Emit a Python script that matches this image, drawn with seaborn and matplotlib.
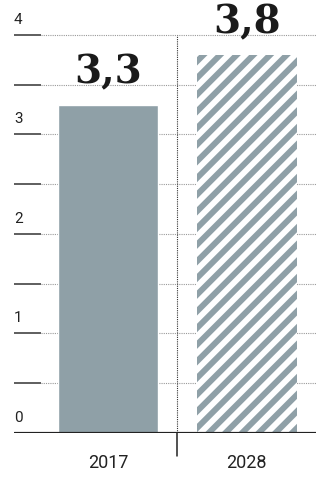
import matplotlib
matplotlib.use("Agg")
import matplotlib.pyplot as plt
import matplotlib.transforms as mtransforms
import pandas as pd
import seaborn as sns

# Chart data
years = ["2017", "2028"]
values = [3.3, 3.8]
value_labels = ["3,3", "3,8"]
y_gridlines = [0.5, 1, 1.5, 2, 2.5, 3, 3.5, 4]
y_labels = [0, 1, 2, 3, 4]

bar_color = "#8fa0a7"
narrow = ["Roboto", "DejaVu Sans"]

sns.set_style("white")
plt.rcParams["hatch.linewidth"] = 4.2

df = pd.DataFrame({"year": years, "value": values})

fig = plt.figure(figsize=(3.16, 4.78), dpi=100)
ax = fig.add_axes([14 / 316, 45 / 478, 302 / 316, 433 / 478])

sns.barplot(data=df, x="year", y="value", color=bar_color, width=0.72,
            saturation=1, ax=ax, zorder=3)

# second bar is a forecast: white diagonal stripes
fut = ax.patches[1]
fut.set_hatch("//")
fut.set_edgecolor("white")
fut.set_linewidth(0)

ax.set_xlim(-0.68, 1.5)
ax.set_ylim(0, 4.35)

# Gridlines: short solid mark on the left, dotted line across
trans = mtransforms.blended_transform_factory(ax.transAxes, ax.transData)
for g in y_gridlines:
    ax.plot([0, 0.09], [g, g], color="#333333", lw=1.1, transform=trans,
            zorder=2, solid_capstyle="butt")
    ax.plot([0.09, 1], [g, g], color="#999999", lw=0.8, ls=(0, (1, 1)),
            transform=trans, zorder=1)

for v in y_labels:
    ax.text(0, v + 0.08, str(v), transform=trans, ha="left", va="bottom",
            fontsize=11, color="#222222", family=narrow)

# Baseline
ax.axhline(0, color="#222222", lw=2.3, zorder=4)

# Separator between past and forecast
ax.plot([0.5, 0.5], [0, 4], color="#333333", lw=0.8, ls=(0, (1, 1)), zorder=1)
ax.plot([0.5, 0.5], [0, -0.23], color="#222222", lw=1.1, clip_on=False,
        zorder=4)

# Value labels
for i, (v, lab) in enumerate(zip(values, value_labels)):
    ax.annotate(lab, (i, v), xytext=(0, 15.5), textcoords="offset points",
                ha="center", va="baseline", fontsize=28, fontweight="bold",
                family="DejaVu Serif", color="#1a1a1a")

ax.set_xlabel("")
ax.set_ylabel("")
ax.set_yticks([])
ax.tick_params(axis="x", length=0, pad=15)
for t in ax.get_xticklabels():
    t.set_fontsize(13)
    t.set_family(narrow)
    t.set_color("#222222")

for s in ax.spines.values():
    s.set_visible(False)

fig.savefig("out.png", dpi=100)
